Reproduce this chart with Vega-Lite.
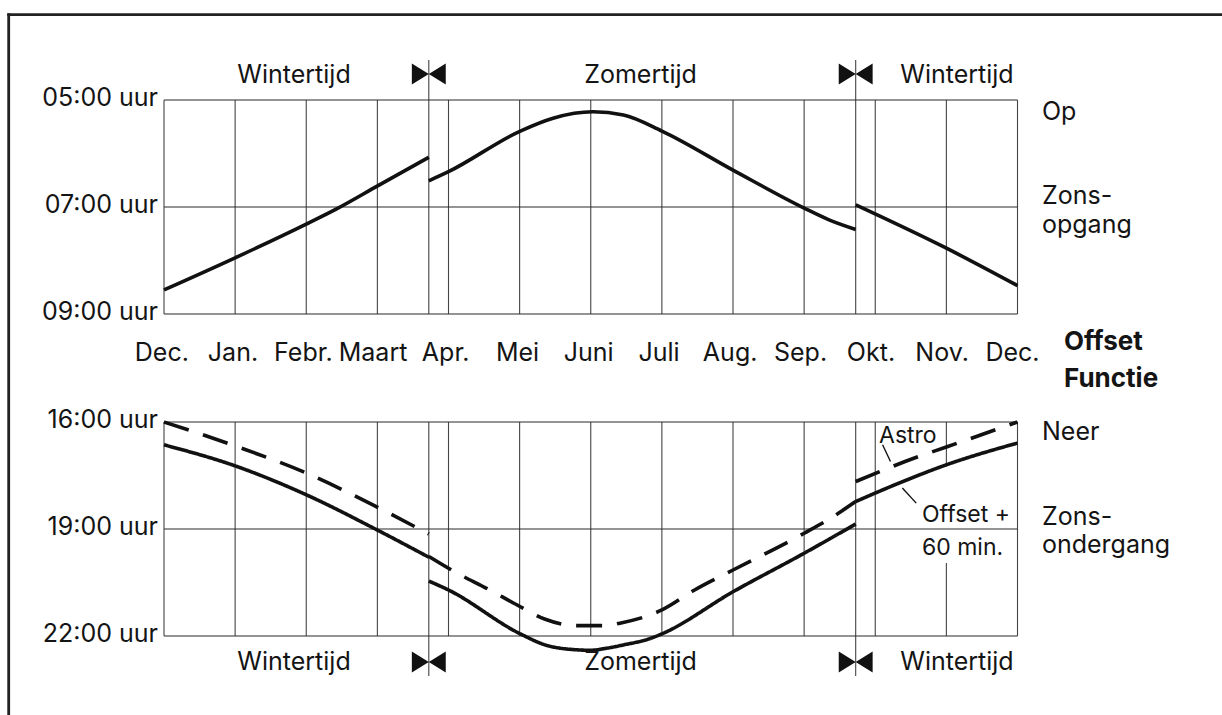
{
  "$schema": "https://vega.github.io/schema/vega-lite/v6.json",
  "width": 1222,
  "height": 715,
  "padding": 0,
  "autosize": {"type": "none"},
  "background": "white",
  "config": {
    "view": {"stroke": null},
    "text": {"font": "Inter", "fontSize": 25, "color": "#141414"}
  },
  "datasets": {
    "frameH": [{"m": -2.1835, "m2": 16, "h": 3.4056}],
    "frameV": [{"m": -2.1835, "h": 3.4056, "h2": 18}],
    "topV": [
      {"m": 0, "h": 5, "h2": 9}, {"m": 1, "h": 5, "h2": 9}, {"m": 2, "h": 5, "h2": 9},
      {"m": 3, "h": 5, "h2": 9}, {"m": 4, "h": 5, "h2": 9}, {"m": 5, "h": 5, "h2": 9},
      {"m": 6, "h": 5, "h2": 9}, {"m": 7, "h": 5, "h2": 9}, {"m": 8, "h": 5, "h2": 9},
      {"m": 9, "h": 5, "h2": 9}, {"m": 10, "h": 5, "h2": 9}, {"m": 11, "h": 5, "h2": 9},
      {"m": 12, "h": 5, "h2": 9},
      {"m": 3.723, "h": 4.252, "h2": 9}, {"m": 9.725, "h": 4.252, "h2": 9}
    ],
    "topH": [
      {"m": 0, "m2": 12, "h": 5}, {"m": 0, "m2": 12, "h": 7}, {"m": 0, "m2": 12, "h": 9}
    ],
    "sunrise": [
      {"seg": "a", "m": 0, "h": 8.55}, {"seg": "a", "m": 1, "h": 7.95},
      {"seg": "a", "m": 2, "h": 7.32}, {"seg": "a", "m": 2.42, "h": 7.04},
      {"seg": "a", "m": 3.01, "h": 6.6}, {"seg": "a", "m": 3.723, "h": 6.07},
      {"seg": "b", "m": 3.723, "h": 6.51}, {"seg": "b", "m": 4, "h": 6.34},
      {"seg": "b", "m": 5.01, "h": 5.58}, {"seg": "b", "m": 5.47, "h": 5.34},
      {"seg": "b", "m": 6.03, "h": 5.22}, {"seg": "b", "m": 6.46, "h": 5.28},
      {"seg": "b", "m": 7, "h": 5.58}, {"seg": "b", "m": 8, "h": 6.31},
      {"seg": "b", "m": 9, "h": 7.02}, {"seg": "b", "m": 9.35, "h": 7.24},
      {"seg": "b", "m": 9.725, "h": 7.42},
      {"seg": "c", "m": 9.725, "h": 6.96}, {"seg": "c", "m": 11, "h": 7.77},
      {"seg": "c", "m": 12, "h": 8.47}
    ],
    "topBow": [{"m": 3.723, "h": 4.514}, {"m": 9.725, "h": 4.514}],
    "topCenter": [
      {"m": 1.828, "h": 4.682, "t": "Wintertijd"},
      {"m": 6.7, "h": 4.682, "t": "Zomertijd"},
      {"m": 11.149, "h": 4.682, "t": "Wintertijd"},
      {"m": -0.03, "h": 9.879, "t": "Dec."},
      {"m": 0.97, "h": 9.879, "t": "Jan."},
      {"m": 1.96, "h": 9.879, "t": "Febr."},
      {"m": 2.939, "h": 9.879, "t": "Maart"},
      {"m": 3.96, "h": 9.879, "t": "Apr."},
      {"m": 4.97, "h": 9.879, "t": "Mei"},
      {"m": 5.97, "h": 9.879, "t": "Juni"},
      {"m": 6.96, "h": 9.879, "t": "Juli"},
      {"m": 7.96, "h": 9.879, "t": "Aug."},
      {"m": 8.95, "h": 9.879, "t": "Sep."},
      {"m": 9.94, "h": 9.879, "t": "Okt."},
      {"m": 10.94, "h": 9.879, "t": "Nov."},
      {"m": 11.93, "h": 9.879, "t": "Dec."}
    ],
    "topRightAl": [
      {"m": -0.084, "h": 5, "t": "05:00 uur"},
      {"m": -0.084, "h": 7, "t": "07:00 uur"},
      {"m": -0.084, "h": 9, "t": "09:00 uur"}
    ],
    "topLeftAl": [
      {"m": 12.344, "h": 5.374, "t": "Op"},
      {"m": 12.344, "h": 6.944, "t": "Zons-"},
      {"m": 12.344, "h": 7.486, "t": "opgang"}
    ],
    "topBold": [
      {"m": 12.654, "h": 9.673, "t": "Offset"},
      {"m": 12.654, "h": 10.364, "t": "Functie"}
    ],
    "botV": [
      {"m": 0, "h": 16, "h2": 22}, {"m": 1, "h": 16, "h2": 22}, {"m": 2, "h": 16, "h2": 22},
      {"m": 3, "h": 16, "h2": 22}, {"m": 4, "h": 16, "h2": 22}, {"m": 5, "h": 16, "h2": 22},
      {"m": 6, "h": 16, "h2": 22}, {"m": 7, "h": 16, "h2": 22}, {"m": 8, "h": 16, "h2": 22},
      {"m": 9, "h": 16, "h2": 22}, {"m": 10, "h": 16, "h2": 22}, {"m": 11, "h": 16, "h2": 22},
      {"m": 12, "h": 16, "h2": 22},
      {"m": 3.723, "h": 16, "h2": 23.121}, {"m": 9.725, "h": 16, "h2": 23.121}
    ],
    "botMask": [{"m": 10.601, "m2": 11.923, "h": 17.25, "h2": 19.953}],
    "botH": [
      {"m": 0, "m2": 12, "h": 16}, {"m": 0, "m2": 12, "h": 19}, {"m": 0, "m2": 12, "h": 22}
    ],
    "sunset": [
      {"series": "Astro", "seg": "a1", "m": 0, "h": 16.0},
      {"series": "Astro", "seg": "a1", "m": 1, "h": 16.67},
      {"series": "Astro", "seg": "a1", "m": 2, "h": 17.43},
      {"series": "Astro", "seg": "a1", "m": 3.01, "h": 18.4},
      {"series": "Astro", "seg": "a1", "m": 3.723, "h": 19.14},
      {"series": "Astro", "seg": "a2", "m": 3.723, "h": 19.77},
      {"series": "Astro", "seg": "a2", "m": 4.06, "h": 20.17},
      {"series": "Astro", "seg": "a2", "m": 4.58, "h": 20.71},
      {"series": "Astro", "seg": "a2", "m": 5.01, "h": 21.18},
      {"series": "Astro", "seg": "a2", "m": 5.36, "h": 21.53},
      {"series": "Astro", "seg": "a2", "m": 5.81, "h": 21.71},
      {"series": "Astro", "seg": "a2", "m": 6.2, "h": 21.71},
      {"series": "Astro", "seg": "a2", "m": 6.41, "h": 21.64},
      {"series": "Astro", "seg": "a2", "m": 7, "h": 21.27},
      {"series": "Astro", "seg": "a2", "m": 7.46, "h": 20.71},
      {"series": "Astro", "seg": "a2", "m": 8, "h": 20.15},
      {"series": "Astro", "seg": "a2", "m": 9, "h": 19.12},
      {"series": "Astro", "seg": "a2", "m": 9.41, "h": 18.65},
      {"series": "Astro", "seg": "a2", "m": 9.725, "h": 18.23},
      {"series": "Astro", "seg": "a3", "m": 9.725, "h": 17.67},
      {"series": "Astro", "seg": "a3", "m": 10.58, "h": 16.99},
      {"series": "Astro", "seg": "a3", "m": 11, "h": 16.7},
      {"series": "Astro", "seg": "a3", "m": 12, "h": 16.0},
      {"series": "Offset", "seg": "o1", "m": 0, "h": 16.64},
      {"series": "Offset", "seg": "o1", "m": 1, "h": 17.23},
      {"series": "Offset", "seg": "o1", "m": 2, "h": 18.04},
      {"series": "Offset", "seg": "o1", "m": 3, "h": 19.03},
      {"series": "Offset", "seg": "o1", "m": 3.723, "h": 19.79},
      {"series": "Offset", "seg": "o2", "m": 3.723, "h": 20.46},
      {"series": "Offset", "seg": "o2", "m": 4, "h": 20.71},
      {"series": "Offset", "seg": "o2", "m": 5.01, "h": 21.94},
      {"series": "Offset", "seg": "o2", "m": 5.36, "h": 22.25},
      {"series": "Offset", "seg": "o2", "m": 5.75, "h": 22.38},
      {"series": "Offset", "seg": "o2", "m": 6.0, "h": 22.4},
      {"series": "Offset", "seg": "o2", "m": 6.2, "h": 22.35},
      {"series": "Offset", "seg": "o2", "m": 6.46, "h": 22.25},
      {"series": "Offset", "seg": "o2", "m": 6.85, "h": 22.06},
      {"series": "Offset", "seg": "o2", "m": 7, "h": 21.94},
      {"series": "Offset", "seg": "o2", "m": 8, "h": 20.76},
      {"series": "Offset", "seg": "o2", "m": 9, "h": 19.68},
      {"series": "Offset", "seg": "o2", "m": 9.725, "h": 18.86},
      {"series": "Offset", "seg": "o3", "m": 9.725, "h": 18.23},
      {"series": "Offset", "seg": "o3", "m": 10.35, "h": 17.7},
      {"series": "Offset", "seg": "o3", "m": 11, "h": 17.2},
      {"series": "Offset", "seg": "o3", "m": 12, "h": 16.59}
    ],
    "leaders": [
      {"m": 10.103, "h": 16.637, "m2": 10.214, "h2": 17.106},
      {"m": 10.381, "h": 17.853, "m2": 10.576, "h2": 18.274}
    ],
    "botBow": [{"m": 3.723, "h": 22.729}, {"m": 9.725, "h": 22.729}],
    "botCenter": [
      {"m": 1.828, "h": 22.953, "t": "Wintertijd"},
      {"m": 6.7, "h": 22.953, "t": "Zomertijd"},
      {"m": 11.149, "h": 22.953, "t": "Wintertijd"}
    ],
    "botRightAl": [
      {"m": -0.084, "h": 16, "t": "16:00 uur"},
      {"m": -0.084, "h": 19, "t": "19:00 uur"},
      {"m": -0.084, "h": 22, "t": "22:00 uur"}
    ],
    "botLeftAl": [
      {"m": 12.344, "h": 16.505, "t": "Neer"},
      {"m": 12.344, "h": 18.888, "t": "Zons-"},
      {"m": 12.344, "h": 19.673, "t": "ondergang"}
    ],
    "botSmall": [
      {"m": 10.053, "h": 16.589, "t": "Astro"},
      {"m": 10.657, "h": 18.804, "t": "Offset +"},
      {"m": 10.657, "h": 19.729, "t": "60 min."}
    ]
  },
  "encoding": {
    "x": {"field": "m", "type": "quantitative", "axis": null,
          "scale": {"domain": [-2.3058, 14.8752], "nice": false, "zero": false}}
  },
  "layer": [
    {
      "encoding": {
        "y": {"field": "h", "type": "quantitative", "axis": null,
              "scale": {"domain": [3.1308, 16.4953], "reverse": true, "nice": false, "zero": false}}
      },
      "layer": [
        {"data": {"name": "frameH"}, "mark": {"type": "rule", "stroke": "#222", "strokeWidth": 2.8, "strokeCap": "square"},
         "encoding": {"x2": {"field": "m2"}}},
        {"data": {"name": "frameV"}, "mark": {"type": "rule", "stroke": "#222", "strokeWidth": 2.8, "strokeCap": "square"},
         "encoding": {"y2": {"field": "h2"}}},
        {"data": {"name": "topV"}, "mark": {"type": "rule", "stroke": "#444", "strokeWidth": 1.1},
         "encoding": {"y2": {"field": "h2"}}},
        {"data": {"name": "topH"}, "mark": {"type": "rule", "stroke": "#2a2a2a", "strokeWidth": 1.2},
         "encoding": {"x2": {"field": "m2"}}},
        {"data": {"name": "sunrise"}, "mark": {"type": "line", "stroke": "#111", "strokeWidth": 3.6, "interpolate": "monotone"},
         "encoding": {"detail": {"field": "seg"}}},
        {"data": {"name": "topBow"}, "mark": {"type": "point", "filled": true, "opacity": 1, "color": "#111", "strokeWidth": 0,
          "shape": "M-1,-0.62L0,0L-1,0.62ZM1,-0.62L0,0L1,0.62Z", "size": 1150}, "encoding": {}},
        {"data": {"name": "topCenter"}, "mark": {"type": "text", "align": "center", "baseline": "alphabetic"},
         "encoding": {"text": {"field": "t"}}},
        {"data": {"name": "topRightAl"}, "mark": {"type": "text", "align": "right", "baseline": "middle", "dy": -2},
         "encoding": {"text": {"field": "t"}}},
        {"data": {"name": "topLeftAl"}, "mark": {"type": "text", "align": "left", "baseline": "alphabetic"},
         "encoding": {"text": {"field": "t"}}},
        {"data": {"name": "topBold"}, "mark": {"type": "text", "align": "left", "baseline": "alphabetic", "fontWeight": "bold", "fontSize": 26},
         "encoding": {"text": {"field": "t"}}}
      ]
    },
    {
      "encoding": {
        "y": {"field": "h", "type": "quantitative", "axis": null,
              "scale": {"domain": [4.1682, 24.2148], "reverse": true, "nice": false, "zero": false}}
      },
      "layer": [
        {"data": {"name": "botV"}, "mark": {"type": "rule", "stroke": "#444", "strokeWidth": 1.1},
         "encoding": {"y2": {"field": "h2"}}},
        {"data": {"name": "botMask"}, "mark": {"type": "rect", "fill": "white"},
         "encoding": {"x2": {"field": "m2"}, "y2": {"field": "h2"}}},
        {"data": {"name": "botH"}, "mark": {"type": "rule", "stroke": "#2a2a2a", "strokeWidth": 1.2},
         "encoding": {"x2": {"field": "m2"}}},
        {"data": {"name": "sunset"}, "mark": {"type": "line", "stroke": "#111", "strokeWidth": 3.6, "interpolate": "monotone"},
         "encoding": {
           "detail": {"field": "seg"},
           "strokeDash": {"field": "series", "type": "nominal", "legend": null,
                          "scale": {"domain": ["Astro", "Offset"], "range": [[26, 15], [1, 0]]}}
         }},
        {"data": {"name": "leaders"}, "mark": {"type": "rule", "stroke": "#111", "strokeWidth": 1.4},
         "encoding": {"x2": {"field": "m2"}, "y2": {"field": "h2"}}},
        {"data": {"name": "botBow"}, "mark": {"type": "point", "filled": true, "opacity": 1, "color": "#111", "strokeWidth": 0,
          "shape": "M-1,-0.62L0,0L-1,0.62ZM1,-0.62L0,0L1,0.62Z", "size": 1150}, "encoding": {}},
        {"data": {"name": "botCenter"}, "mark": {"type": "text", "align": "center", "baseline": "alphabetic"},
         "encoding": {"text": {"field": "t"}}},
        {"data": {"name": "botRightAl"}, "mark": {"type": "text", "align": "right", "baseline": "middle", "dy": -2},
         "encoding": {"text": {"field": "t"}}},
        {"data": {"name": "botLeftAl"}, "mark": {"type": "text", "align": "left", "baseline": "alphabetic"},
         "encoding": {"text": {"field": "t"}}},
        {"data": {"name": "botSmall"}, "mark": {"type": "text", "align": "left", "baseline": "alphabetic", "fontSize": 23},
         "encoding": {"text": {"field": "t"}}}
      ]
    }
  ],
  "resolve": {"scale": {"y": "independent"}}
}
